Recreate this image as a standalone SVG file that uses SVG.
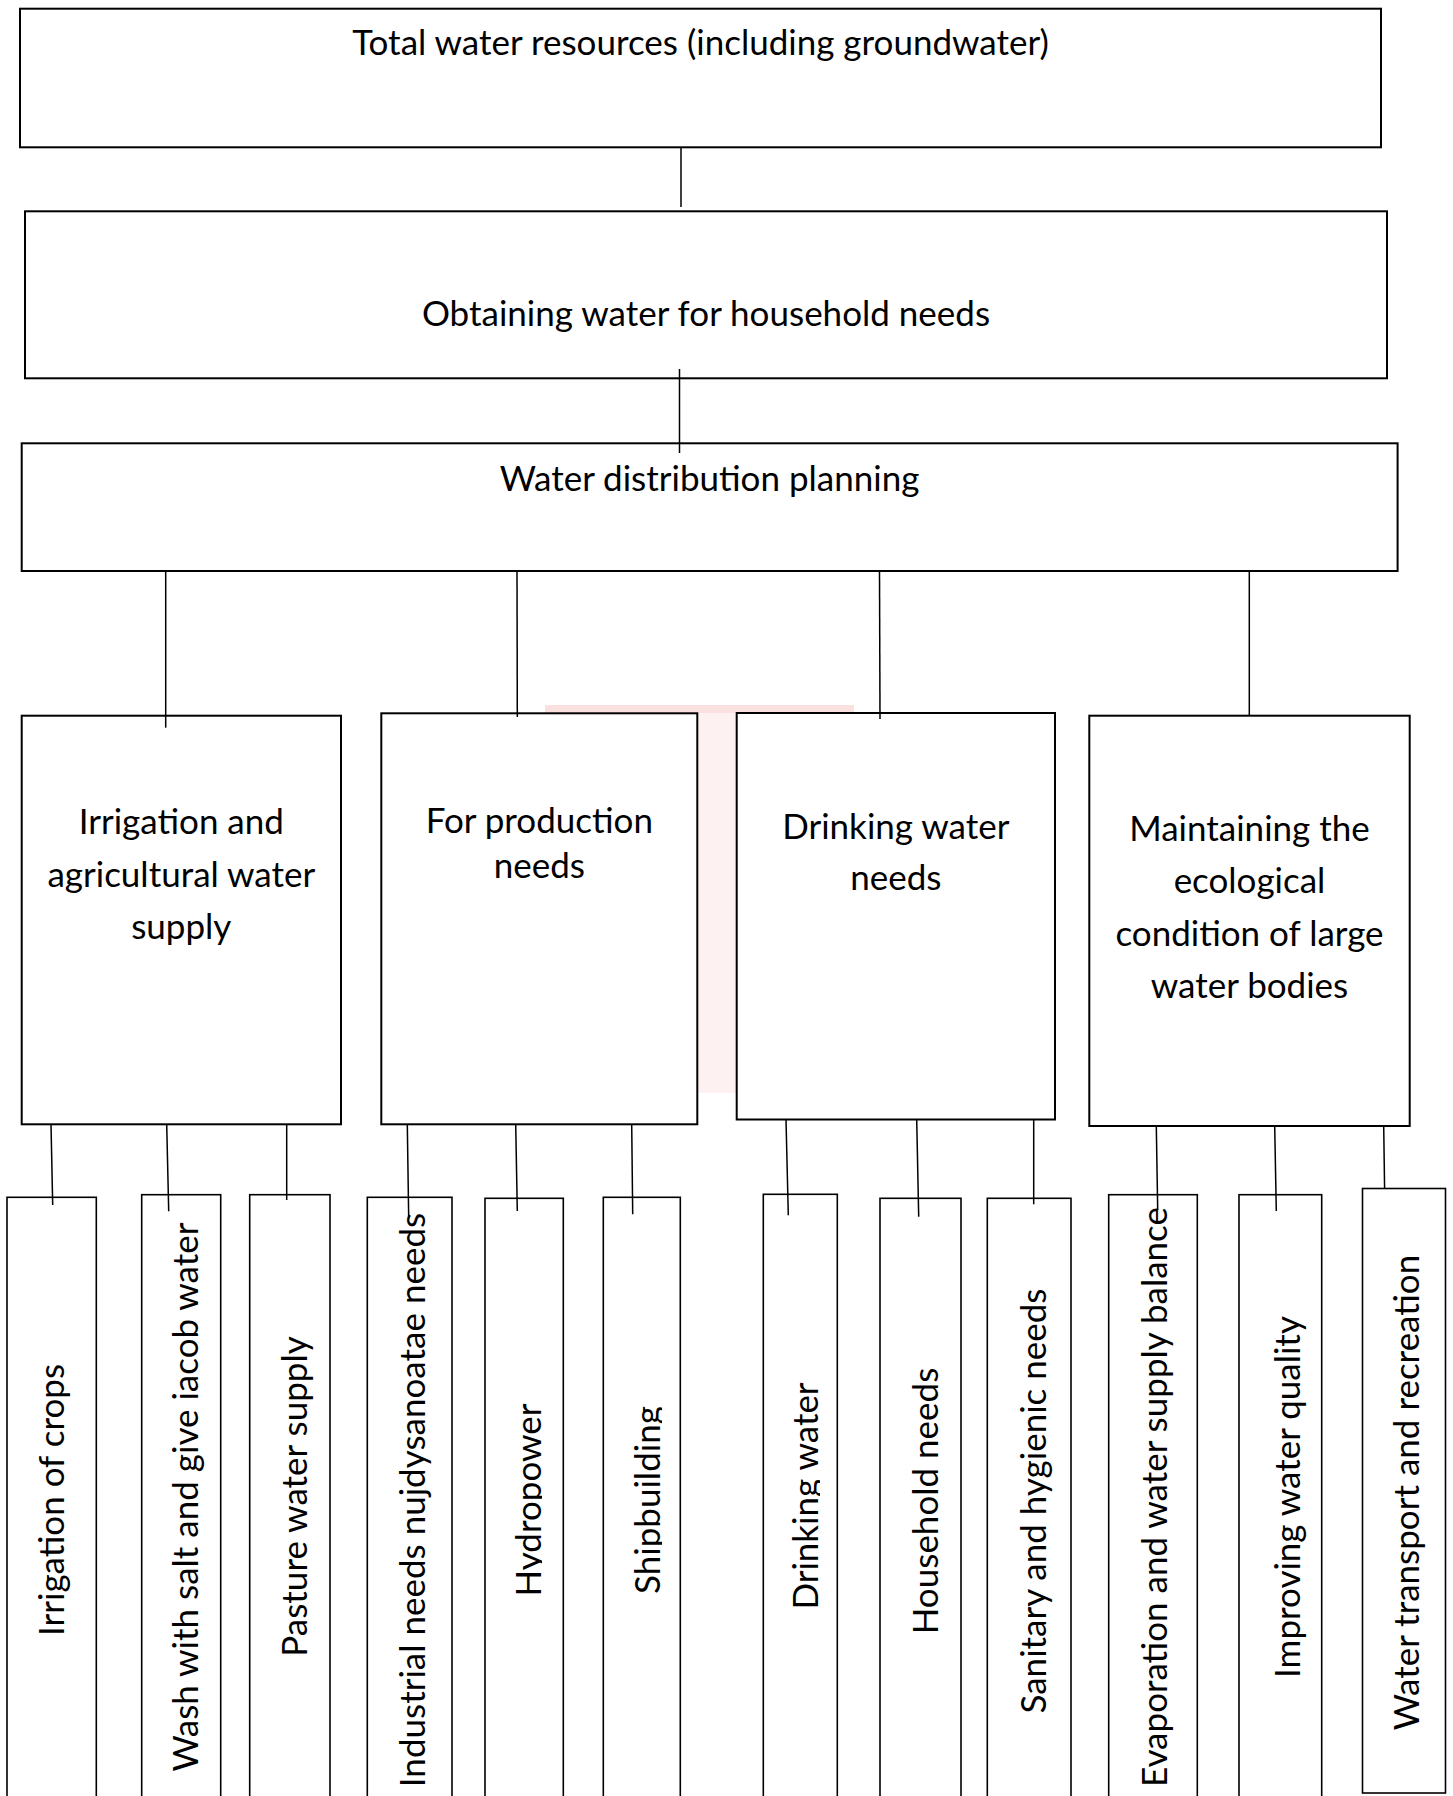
<svg xmlns="http://www.w3.org/2000/svg" width="1453" height="1796" viewBox="0 0 1453 1796">
<style>
.box{fill:#fff;stroke:#000;stroke-width:2}
.sbox{fill:#fff;stroke:#000;stroke-width:1.6}
.conn line{stroke:#000;stroke-width:1.5}
.t{font-family:Lato,"Open Sans","Liberation Sans",sans-serif;font-size:35px;fill:#000;text-anchor:middle}
</style>
<defs>
<clipPath id="clipE" clipPathUnits="userSpaceOnUse"><rect x="480" y="1190" width="62" height="600"/></clipPath>
<clipPath id="clipF" clipPathUnits="userSpaceOnUse"><rect x="600" y="1190" width="62" height="600"/></clipPath>
<clipPath id="clipG" clipPathUnits="userSpaceOnUse"><rect x="760" y="1190" width="60" height="600"/></clipPath>
</defs>
<rect width="1453" height="1796" fill="#fff"/>
<g id="watermark">
<rect x="545" y="705" width="309" height="8" fill="#fbe0e0"/>
<rect x="697" y="713" width="40" height="380" fill="#fdf1f1"/>
</g>
<g id="n-total"><rect class="box" x="20" y="8.7" width="1361" height="138.6"/><text class="t" x="700.5" y="55">Total water resources (including groundwater)</text></g>
<g id="n-obtaining"><rect class="box" x="25" y="211.3" width="1362" height="167"/><text class="t" x="706" y="326">Obtaining water for household needs</text></g>
<g id="n-planning"><rect class="box" x="21.7" y="443.3" width="1375.9" height="127.7"/><text class="t" x="709.6" y="491">Water distribution planning</text></g>
<g id="n-irrigation"><rect class="box" x="21.7" y="715.7" width="319.3" height="408.6"/><text class="t" x="181.3"><tspan x="181.3" y="833.5">Irrigation and</tspan><tspan x="181.3" y="886.5">agricultural water</tspan><tspan x="181.3" y="939">supply</tspan></text></g>
<g id="n-production"><rect class="box" x="381.3" y="713.3" width="316" height="411"/><text class="t"><tspan x="539.3" y="832.5">For production</tspan><tspan x="539.3" y="877.5">needs</tspan></text></g>
<g id="n-drinking"><rect class="box" x="736.7" y="713" width="318.3" height="406.5"/><text class="t"><tspan x="895.8" y="838.5">Drinking water</tspan><tspan x="895.8" y="890">needs</tspan></text></g>
<g id="n-ecology"><rect class="box" x="1089.3" y="715.7" width="320.4" height="410.3"/><text class="t"><tspan x="1249.5" y="841">Maintaining the</tspan><tspan x="1249.5" y="893.3">ecological</tspan><tspan x="1249.5" y="945.5">condition of large</tspan><tspan x="1249.5" y="997.5">water bodies</tspan></text></g>
<g id="n-crops"><rect class="sbox" x="7" y="1197.3" width="89.3" height="620"/><text class="t" transform="translate(64 1500) rotate(-90)">Irrigation of crops</text></g>
<g id="n-wash"><rect class="sbox" x="141.7" y="1194.7" width="79" height="620"/><text class="t" transform="translate(198 1497) rotate(-90)">Wash with salt and give iacob water</text></g>
<g id="n-pasture"><rect class="sbox" x="249.7" y="1194.7" width="80.3" height="620"/><text class="t" transform="translate(307 1496.5) rotate(-90)">Pasture water supply</text></g>
<g id="n-industrial"><rect class="sbox" x="367.3" y="1197.3" width="84.7" height="620"/><text class="t" transform="translate(425 1500) rotate(-90)">Industrial needs nujdysanoatae needs</text></g>
<g id="n-hydro"><rect class="sbox" x="485" y="1198.3" width="78.3" height="620"/><g clip-path="url(#clipE)"><text class="t" transform="translate(540.5 1500) rotate(-90)">Hydropower</text></g></g>
<g id="n-ship"><rect class="sbox" x="603.3" y="1197.3" width="77" height="620"/><g clip-path="url(#clipF)"><text class="t" transform="translate(660 1500) rotate(-90)">Shipbuilding</text></g></g>
<g id="n-drink"><rect class="sbox" x="763.3" y="1194.3" width="74" height="620"/><g clip-path="url(#clipG)"><text class="t" transform="translate(818 1496) rotate(-90)">Drinking water</text></g></g>
<g id="n-household"><rect class="sbox" x="880" y="1198.3" width="81" height="620"/><text class="t" transform="translate(938 1501) rotate(-90)">Household needs</text></g>
<g id="n-sanitary"><rect class="sbox" x="987.3" y="1198.3" width="83.7" height="620"/><text class="t" transform="translate(1046 1501) rotate(-90)">Sanitary and hygienic needs</text></g>
<g id="n-evaporation"><rect class="sbox" x="1108.7" y="1194.7" width="88.6" height="620"/><text class="t" transform="translate(1167 1497) rotate(-90)">Evaporation and water supply balance</text></g>
<g id="n-quality"><rect class="sbox" x="1239" y="1194.7" width="82.7" height="620"/><text class="t" transform="translate(1300 1497) rotate(-90)">Improving water quality</text></g>
<g id="n-transport"><rect class="sbox" x="1362.5" y="1188.5" width="83" height="604.5"/><text class="t" transform="translate(1419 1492.5) rotate(-90)">Water transport and recreation</text></g>
<g id="connectors" class="conn">
<line x1="681" y1="147.3" x2="681" y2="207"/>
<line x1="679.5" y1="369" x2="679.5" y2="453"/>
<line x1="165.7" y1="571" x2="165.7" y2="727.7"/>
<line x1="517" y1="571" x2="517.3" y2="717"/>
<line x1="879.5" y1="571" x2="880" y2="719"/>
<line x1="1249.3" y1="571" x2="1249.3" y2="715.7"/>
<line x1="51" y1="1124.3" x2="52.7" y2="1205"/>
<line x1="166.7" y1="1124.3" x2="168.7" y2="1211.3"/>
<line x1="286.7" y1="1124.3" x2="286.7" y2="1200"/>
<line x1="407.3" y1="1124.3" x2="408.7" y2="1218.3"/>
<line x1="515.7" y1="1124.3" x2="517.3" y2="1211"/>
<line x1="631.7" y1="1124.3" x2="632.7" y2="1214.3"/>
<line x1="786" y1="1119.5" x2="788.3" y2="1215.3"/>
<line x1="916.7" y1="1119.5" x2="918.7" y2="1216.7"/>
<line x1="1033.7" y1="1119.5" x2="1033.7" y2="1204.3"/>
<line x1="1156.3" y1="1126" x2="1157.7" y2="1210"/>
<line x1="1274.7" y1="1126" x2="1276.3" y2="1211"/>
<line x1="1383.7" y1="1126" x2="1384.6" y2="1188.5"/>
</g>
</svg>
